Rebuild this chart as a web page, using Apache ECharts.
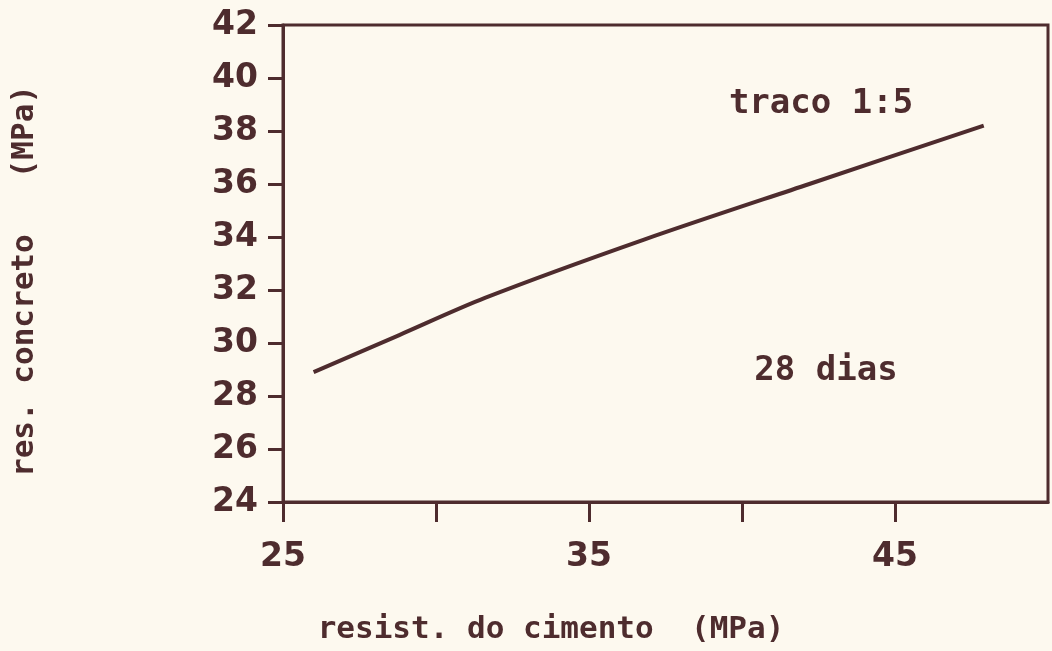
<!DOCTYPE html>
<html>
<head>
<meta charset="utf-8">
<script src="https://cdn.jsdelivr.net/npm/echarts@6/dist/echarts.min.js"></script>
<style>
html,body{margin:0;padding:0;background:#fdf9ef;}
#chart{width:1052px;height:651px;}
</style>
</head>
<body>
<div id="chart"></div>
<script>
// Data
var cementStrength = [26.0, 28.8, 31.6, 36.8, 42.2, 47.9];   // resist. do cimento (MPa)
var concreteStrength = [28.9, 30.3, 31.7, 33.9, 36.0, 38.2]; // res. concreto (MPa)
var xTickValues = [25, 30, 35, 40, 45];
var xLabelValues = [25, 35, 45];
var xTitle = 'resist. do cimento  (MPa)';
var yTitle = 'res. concreto   (MPa)';
var note1 = 'traco 1:5';
var note2 = '28 dias';

var ink = '#4e2c2e';
var points = cementStrength.map(function (x, i) { return [x, concreteStrength[i]]; });

var chart = echarts.init(document.getElementById('chart'));
chart.setOption({
  backgroundColor: '#fdf9ef',
  animation: false,
  grid: {
    left: 283, right: 4, top: 25, bottom: 149,
    show: true, borderColor: ink, borderWidth: 3, backgroundColor: 'transparent'
  },
  xAxis: {
    type: 'value', min: 25, max: 50, interval: 5,
    axisLine: { show: true, lineStyle: { color: ink, width: 3 } },
    axisTick: { show: true, customValues: xTickValues, length: 20, lineStyle: { color: ink, width: 3 } },
    axisLabel: { customValues: xLabelValues, color: ink, fontFamily: 'DejaVu Sans', fontWeight: 'bold', fontSize: 33, margin: 39 },
    splitLine: { show: false }
  },
  yAxis: {
    type: 'value', min: 24, max: 42, interval: 2,
    axisLine: { show: true, lineStyle: { color: ink, width: 3 } },
    axisTick: { show: true, length: 15, lineStyle: { color: ink, width: 3 } },
    axisLabel: { color: ink, fontFamily: 'DejaVu Sans', fontWeight: 'bold', fontSize: 33, margin: 25 },
    splitLine: { show: false }
  },
  series: [{
    type: 'line',
    data: points,
    smooth: 0.3,
    symbol: 'none',
    lineStyle: { color: ink, width: 4 }
  }],
  graphic: [
    { type: 'text', style: { text: note1, x: 821, y: 104, textAlign: 'center', textVerticalAlign: 'middle', fill: ink, font: 'bold 34px "DejaVu Sans Mono"' } },
    { type: 'text', style: { text: note2, x: 826, y: 371, textAlign: 'center', textVerticalAlign: 'middle', fill: ink, font: 'bold 34px "DejaVu Sans Mono"' } },
    { type: 'text', style: { text: xTitle, x: 551, y: 630, textAlign: 'center', textVerticalAlign: 'middle', fill: ink, font: 'bold 31px "DejaVu Sans Mono"' } },
    { type: 'text', x: 25, y: 281, rotation: Math.PI / 2, style: { text: yTitle, x: 0, y: 0, textAlign: 'center', textVerticalAlign: 'middle', fill: ink, font: 'bold 31px "DejaVu Sans Mono"' } }
  ]
});
</script>
</body>
</html>
